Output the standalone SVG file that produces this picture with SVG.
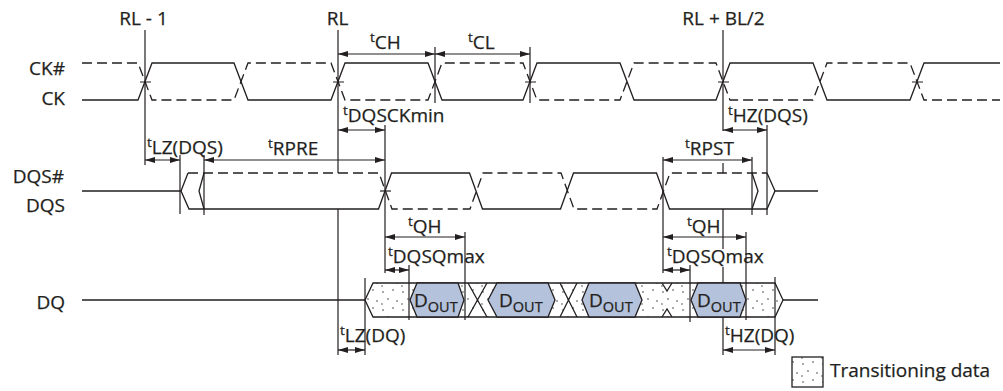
<svg xmlns="http://www.w3.org/2000/svg" width="1003" height="391" viewBox="0 0 1003 391">
<style>
  .w{fill:none;stroke:#231f20;stroke-width:1.3}
  .d{fill:none;stroke:#231f20;stroke-width:1.3;stroke-dasharray:10 5}
  .v{fill:none;stroke:#231f20;stroke-width:1.2}
  .a{fill:none;stroke:#231f20;stroke-width:1.2;marker-start:url(#ah);marker-end:url(#ah)}
  .lb{font-family:"Open Sans","Liberation Sans",sans-serif;font-size:19px;fill:#231f20;stroke:#231f20;stroke-width:0.25}
  .sup{font-size:13.5px}
  .sub{font-size:14.5px}
  .hex{fill:#b4c2dc;stroke:#231f20;stroke-width:1.3}
</style>
<defs>
  <marker id="ah" viewBox="0 0 10 6" refX="10" refY="3" markerWidth="10" markerHeight="6" markerUnits="userSpaceOnUse" orient="auto-start-reverse">
    <path d="M0,0 L10,3 L0,6 z" fill="#231f20"/>
  </marker>
  <pattern id="dots" width="20" height="18" patternUnits="userSpaceOnUse">
    <rect width="20" height="18" fill="#fff"/>
    <g fill="#8c8c8c">
      <circle cx="3" cy="4" r="1"/><circle cx="13" cy="2" r="1"/><circle cx="8" cy="11" r="1"/>
      <circle cx="17" cy="13" r="1"/><circle cx="2" cy="16" r="0.9"/>
    </g>
  </pattern>
</defs>
<rect width="1003" height="391" fill="#fff"/>

<g id="labels" class="lb">
  <text x="143.5" y="25" text-anchor="middle">RL - 1</text>
  <text x="337.5" y="25" text-anchor="middle">RL</text>
  <text x="723.5" y="25" text-anchor="middle">RL + BL/2</text>
  <text x="65" y="75" text-anchor="end">CK#</text>
  <text x="65" y="105" text-anchor="end">CK</text>
  <text x="64" y="183" text-anchor="end">DQS#</text>
  <text x="65" y="212" text-anchor="end">DQS</text>
  <text x="65" y="309" text-anchor="end">DQ</text>
</g>

<g id="ck">
  <path class="w" d="M82,100 L138,100 L152,63 L234,63 L248,100 L331,100 L345,63 L428,63 L442,100 L523,100 L537,63 L620,63 L634,100 L716,100 L730,63 L813,63 L827,100 L910,100 L924,63 L1000,63"/>
  <path class="d" d="M82,63 L138,63 L152,100 L234,100 L248,63 L331,63 L345,100 L428,100 L442,63 L523,63 L537,100 L620,100 L634,63 L716,63 L730,100 L813,100 L827,63 L910,63 L924,100 L1000,100"/>
  <path class="v" d="M140,82 H151 M333,82 H344 M525,82 H536 M718,82 H729 M912,82 H923"/>
</g>

<g id="dqs">
  <path class="w" d="M82,191 L181,191 L189,209 L378.5,209 L391.5,173 L469.5,173 L482.5,209 L560.5,209 L573.5,173 L656.5,173 L669.5,209 L767,209 L775,191 L818,191"/>
  <path class="d" d="M188,173 L379,173 L392,209 L470,209 L483,173 L561,173 L574,209 L657,209 L670,173 L767,173"/>
  <path class="w" d="M181,191 L188,173 M204,173 L199,191 L204,209 M752,173 L758,191 L752,209 M767,173 L775,191"/>
  <path class="v" d="M380,191 H391"/>
</g>

<g id="dq">
  <path class="w" d="M82,300 L365,300 M783,300 L818,300"/>
  <path style="fill:url(#dots);stroke:#231f20;stroke-width:1.3" d="M365,300 L373,283 L775,283 L783,300 L775,317 L373,317 Z"/>
  <path class="w" d="M468,283 L487,317 M487,283 L468,317 M560,283 L577,317 M577,283 L560,317 M662,283 L667,291 L672,283 M662,317 L667,309 L672,317"/>
  <g id="dout1"><path class="hex" d="M410,300 L417,283 L458,283 L464,300 L458,317 L417,317 Z"/><text class="lb" x="414" y="307">D<tspan class="sub" dy="5">OUT</tspan></text></g>
  <g id="dout2"><path class="hex" d="M488,300 L497,283 L548,283 L555,300 L548,317 L497,317 Z"/><text class="lb" x="499" y="307">D<tspan class="sub" dy="5">OUT</tspan></text></g>
  <g id="dout3"><path class="hex" d="M582,300 L589,283 L635,283 L642,300 L635,317 L589,317 Z"/><text class="lb" x="589" y="307">D<tspan class="sub" dy="5">OUT</tspan></text></g>
  <g id="dout4"><path class="hex" d="M691,300 L698,283 L740,283 L746,300 L740,317 L698,317 Z"/><text class="lb" x="697" y="307">D<tspan class="sub" dy="5">OUT</tspan></text></g>
</g>

<g id="connectors">
  <path class="v" d="M145,30 V165 M180,155 V214 M204,155 V215 M338,30 V173 M338,209 V355 M385,125 V273 M435,47 V103 M530,47 V103
    M723,30 V131 M723,163 V173 M723,209 V249 M723,267 V283 M723,317 V355
    M465,232 V320 M409,265 V320 M365,278 V355 M663,157 V273 M690,265 V322 M746,232 V320 M752,157 V215 M767,125 V215 M775,277 V355"/>
  <line class="a" x1="338" y1="54" x2="435" y2="54"/>
  <line class="a" x1="435" y1="54" x2="530" y2="54"/>
  <line class="a" x1="338" y1="130" x2="385" y2="130"/>
  <line class="a" x1="723" y1="130" x2="767" y2="130"/>
  <line class="a" x1="145" y1="160" x2="180" y2="160"/>
  <line class="a" x1="204" y1="160" x2="385" y2="160"/>
  <line class="a" x1="663" y1="160" x2="752" y2="160"/>
  <line class="a" x1="385" y1="237" x2="465" y2="237"/>
  <line class="a" x1="385" y1="270" x2="409" y2="270"/>
  <line class="a" x1="663" y1="237" x2="746" y2="237"/>
  <line class="a" x1="663" y1="270" x2="690" y2="270"/>
  <line class="a" x1="338" y1="350" x2="365" y2="350"/>
  <line class="a" x1="723" y1="350" x2="775" y2="350"/>
</g>

<g id="timing-labels" class="lb">
  <text x="370" y="49"><tspan class="sup" dy="-7">t</tspan><tspan dy="7">CH</tspan></text>
  <text x="468" y="49"><tspan class="sup" dy="-7">t</tspan><tspan dy="7">CL</tspan></text>
  <text x="343" y="122"><tspan class="sup" dy="-7">t</tspan><tspan dy="7">DQSCKmin</tspan></text>
  <text x="728" y="122"><tspan class="sup" dy="-7">t</tspan><tspan dy="7">HZ(DQS)</tspan></text>
  <text x="147" y="154"><tspan class="sup" dy="-7">t</tspan><tspan dy="7">LZ(DQS)</tspan></text>
  <text x="268" y="155"><tspan class="sup" dy="-7">t</tspan><tspan dy="7">RPRE</tspan></text>
  <text x="685" y="155"><tspan class="sup" dy="-7">t</tspan><tspan dy="7">RPST</tspan></text>
  <text x="408" y="233"><tspan class="sup" dy="-7">t</tspan><tspan dy="7">QH</tspan></text>
  <text x="388" y="263"><tspan class="sup" dy="-7">t</tspan><tspan dy="7">DQSQmax</tspan></text>
  <text x="687" y="233"><tspan class="sup" dy="-7">t</tspan><tspan dy="7">QH</tspan></text>
  <text x="667" y="263"><tspan class="sup" dy="-7">t</tspan><tspan dy="7">DQSQmax</tspan></text>
  <text x="340" y="342"><tspan class="sup" dy="-7">t</tspan><tspan dy="7">LZ(DQ)</tspan></text>
  <text x="725" y="342"><tspan class="sup" dy="-7">t</tspan><tspan dy="7">HZ(DQ)</tspan></text>
</g>

<g id="legend">
  <rect x="792" y="357" width="31" height="30" style="fill:url(#dots);stroke:#231f20;stroke-width:1.3"/>
  <text class="lb" x="830" y="377">Transitioning data</text>
</g>
</svg>
